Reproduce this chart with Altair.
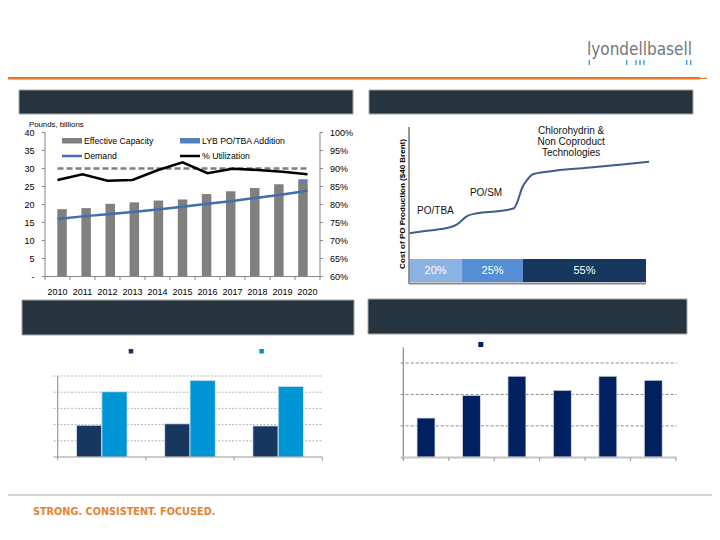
import altair as alt
import pandas as pd

OFF = 8  # page margin: chart pixel = page pixel - 8

# ---------------- data: top-left (PO supply / demand) ----------------
years = [2010, 2011, 2012, 2013, 2014, 2015, 2016, 2017, 2018, 2019, 2020]
effective_capacity = [18.7, 19.0, 20.2, 20.6, 21.1, 21.4, 22.9, 23.7, 24.6, 25.6, 26.5]
lyb_addition = [0, 0, 0, 0, 0, 0, 0, 0, 0, 0, 0.5]
demand = [16.0, 16.7, 17.3, 17.9, 18.6, 19.4, 20.2, 21.0, 21.9, 22.8, 23.8]
utilization = [0.868, 0.884, 0.866, 0.868, 0.895, 0.917, 0.887, 0.899, 0.896, 0.891, 0.884]
target_utilization = 0.90
left_ticks = [0, 5, 10, 15, 20, 25, 30, 35, 40]
left_tick_labels = ["-", "5", "10", "15", "20", "25", "30", "35", "40"]
right_ticks = [0.60, 0.65, 0.70, 0.75, 0.80, 0.85, 0.90, 0.95, 1.00]
right_tick_labels = ["60%", "65%", "70%", "75%", "80%", "85%", "90%", "95%", "100%"]

# ---------------- data: top-right (PO cost curve) ----------------
curve_capacity = [0, 7.6, 17.3, 20.3, 24.5, 28.7, 38.4, 44.3, 46.0, 47.7, 49.8, 52.3, 58.2, 77.6, 92.0, 101.3]
curve_cost = [31.9, 33.5, 35.7, 37.6, 42.9, 44.7, 46.2, 47.9, 53.2, 60.9, 66.0, 69.7, 71.3, 74.2, 76.3, 77.8]
share_labels = ["20%", "25%", "55%"]
share_start = [0, 22.4, 48.1]
share_end = [22.4, 48.1, 100]
share_colors = ["#8db3e2", "#558ed5", "#17375e"]
tech_labels = ["PO/TBA", "PO/SM"]
tech_label_cap = [3.4, 25.7]
tech_label_cost = [46.3, 57.7]
other_tech_lines = ["Chlorohydrin &", "Non Coproduct", "Technologies"]
other_tech_cap = [68.4, 68.4, 68.4]
other_tech_cost = [97.4, 90.4, 83.3]

# ---------------- data: bottom-left (grouped bars) ----------------
bl_groups = ["G1", "G2", "G3"]
bl_series_a = [1.96, 2.05, 1.92]
bl_series_b = [4.03, 4.73, 4.36]
bl_grid = [1, 2, 3, 4, 5]

# ---------------- data: bottom-right (bars) ----------------
br_categories = ["C1", "C2", "C3", "C4", "C5", "C6"]
br_values = [1.25, 1.97, 2.58, 2.13, 2.58, 2.45]
br_grid = [1, 2, 3]

# ---------------- helpers ----------------
ONE = alt.Data(values=[{"k": 1}])
AX = "#868686"
FONT = "Liberation Sans"


def V(px):
    return alt.value(px - OFF)


def R(a, b):
    return [a - OFF, b - OFF]


def rect(x1, y1, x2, y2, fill, stroke=None, sw=1):
    kw = {"fill": fill}
    if stroke:
        kw.update(stroke=stroke, strokeWidth=sw)
    return alt.Chart(ONE).mark_rect(**kw).encode(x=V(x1), x2=V(x2), y=V(y1), y2=V(y2))


def hline(x1, x2, y, color, w=1, dash=None):
    kw = {"color": color, "strokeWidth": w}
    if dash:
        kw["strokeDash"] = dash
    return alt.Chart(ONE).mark_rule(**kw).encode(x=V(x1), x2=V(x2), y=V(y))


def vline(x, y1, y2, color, w=1):
    return alt.Chart(ONE).mark_rule(color=color, strokeWidth=w).encode(x=V(x), y=V(y1), y2=V(y2))


def label(x, y, txt, size=9, color="#000000", align="left", weight="normal",
          font=FONT, angle=0, baseline="middle"):
    kw = dict(text=txt, fontSize=size, color=color, align=align, fontWeight=weight,
              font=font, baseline=baseline)
    if angle:
        kw["angle"] = angle
    return alt.Chart(ONE).mark_text(**kw).encode(x=V(x), y=V(y))


layers = []

# ---------------- page decorations ----------------
layers += [
    hline(0, 700, 78.3, "#e8762b", 2.5),
    hline(700, 707, 78.3, "#e8762b", 1.2),
    label(587, 55, "lyondellbasell", 17, "#72777c", font="DejaVu Sans Condensed", baseline="alphabetic"),
]
for tx in [589.3, 626.7, 636, 640, 644, 686.7, 690.7]:
    layers.append(vline(tx, 60, 65, "#3a93d3", 1.3))

layers += [
    rect(19, 90, 353, 114, "#263440", "#a6a6a6"),
    rect(369, 90, 693, 114, "#263440", "#a6a6a6"),
    rect(22, 300, 354, 335, "#263440", "#a6a6a6"),
    rect(368, 299, 687, 334, "#263440", "#a6a6a6"),
    hline(0, 720, 495, "#c8c8c8", 1.5),
    label(33, 512, "STRONG. CONSISTENT. FOCUSED.", 10.8, "#e8822f", weight="bold",
          font="DejaVu Sans Condensed"),
]

# ---------------- top-left chart ----------------
xs_tl = alt.Scale(domain=[2009.5, 2020.5], range=R(45, 320), nice=False, zero=False)
ys_tl = alt.Scale(domain=[0, 40], range=R(276.5, 132.5), nice=False, zero=False)
yr_tl = alt.Scale(domain=[0.6, 1.0], range=R(276.5, 132.5), nice=False, zero=False)

df_tl = pd.DataFrame({"year": years, "cap": effective_capacity, "lyb": lyb_addition,
                      "demand": demand, "util": utilization})
X_TL = alt.X("year:Q", scale=xs_tl, axis=None)

layers += [
    alt.Chart(df_tl).mark_bar(size=9.5, color="#808080").encode(
        x=X_TL, y=alt.Y("cap:Q", scale=ys_tl, axis=None)),
    alt.Chart(df_tl).transform_filter("datum.lyb > 0").transform_calculate(
        top="datum.cap + datum.lyb").mark_bar(size=9.5, color="#4f81bd").encode(
        x=X_TL, y=alt.Y("cap:Q", scale=ys_tl, axis=None), y2="top:Q"),
    alt.Chart(alt.Data(values=[{"a": years[0], "b": years[-1], "t": target_utilization}])).mark_rule(
        color="#808080", strokeWidth=2.5, strokeDash=[6, 3]).encode(
        x=alt.X("a:Q", scale=xs_tl, axis=None), x2="b:Q",
        y=alt.Y("t:Q", scale=yr_tl, axis=None)),
    alt.Chart(df_tl).mark_line(color="#3f6fae", strokeWidth=2.5).encode(
        x=X_TL, y=alt.Y("demand:Q", scale=ys_tl, axis=None)),
    alt.Chart(df_tl).mark_line(color="#000000", strokeWidth=2.5).encode(
        x=X_TL, y=alt.Y("util:Q", scale=yr_tl, axis=None)),
]

# axes (top-left)
df_lt = pd.DataFrame({"v": left_ticks, "lab": left_tick_labels})
df_rt = pd.DataFrame({"v": right_ticks, "lab": right_tick_labels})
df_bound = pd.DataFrame({"b": [y - 0.5 for y in years] + [years[-1] + 0.5]})
layers += [
    vline(45, 132.5, 276.5, AX),
    vline(320, 132.5, 276.5, AX),
    hline(45, 320, 276.5, AX),
    alt.Chart(df_lt).mark_rule(color=AX).encode(
        x=V(42), x2=V(45), y=alt.Y("v:Q", scale=ys_tl, axis=None)),
    alt.Chart(df_lt).mark_text(align="right", baseline="middle", fontSize=9, font=FONT).encode(
        x=V(34.5), y=alt.Y("v:Q", scale=ys_tl, axis=None), text="lab:N"),
    alt.Chart(df_rt).mark_rule(color=AX).encode(
        x=V(320), x2=V(323), y=alt.Y("v:Q", scale=yr_tl, axis=None)),
    alt.Chart(df_rt).mark_text(align="left", baseline="middle", fontSize=9, font=FONT).encode(
        x=V(330), y=alt.Y("v:Q", scale=yr_tl, axis=None), text="lab:N"),
    alt.Chart(df_bound).mark_rule(color=AX).encode(
        x=alt.X("b:Q", scale=xs_tl, axis=None), y=V(276.5), y2=V(280)),
    alt.Chart(df_tl).mark_text(align="center", baseline="middle", fontSize=9, font=FONT).encode(
        x=X_TL, y=V(291.5), text="year:N"),
    label(29, 125, "Pounds, billions", 7.8),
]
# legend (top-left)
layers += [
    rect(62, 138, 82, 143.5, "#808080"),
    label(84, 141, "Effective Capacity", 8.7),
    rect(180, 138, 200, 143.5, "#4f81bd"),
    label(202, 141, "LYB PO/TBA Addition", 8.7),
    hline(62, 82, 156, "#3f6fae", 2.5),
    label(84, 156, "Demand", 8.7),
    hline(180, 200, 156, "#000000", 2.5),
    label(202, 156, "% Utilization", 8.7),
]

# ---------------- top-right chart ----------------
xs_tr = alt.Scale(domain=[0, 100], range=R(409, 646), nice=False, zero=False)
ys_tr = alt.Scale(domain=[0, 100], range=R(283, 127), nice=False, zero=False)
df_curve = pd.DataFrame({"cap": curve_capacity, "cost": curve_cost})
df_share = pd.DataFrame({"lab": share_labels, "s": share_start, "e": share_end})
df_tech = pd.DataFrame({"lab": tech_labels, "cap": tech_label_cap, "cost": tech_label_cost})
df_other = pd.DataFrame({"lab": other_tech_lines, "cap": other_tech_cap, "cost": other_tech_cost})

layers += [
    alt.Chart(df_share).mark_rect().encode(
        x=alt.X("s:Q", scale=xs_tr, axis=None), x2="e:Q", y=V(259), y2=V(282),
        color=alt.Color("lab:N", scale=alt.Scale(domain=share_labels, range=share_colors), legend=None)),
    alt.Chart(df_share).transform_calculate(m="(datum.s + datum.e) / 2").mark_text(
        color="white", fontSize=11, font=FONT, align="center", baseline="middle").encode(
        x=alt.X("m:Q", scale=xs_tr, axis=None), y=V(270.7), text="lab:N"),
    alt.Chart(df_curve).mark_line(color="#3d5d8f", strokeWidth=2, interpolate="monotone").encode(
        x=alt.X("cap:Q", scale=xs_tr, axis=None), y=alt.Y("cost:Q", scale=ys_tr, axis=None)),
    alt.Chart(df_tech).mark_text(align="left", baseline="middle", fontSize=10, font=FONT, color="#111").encode(
        x=alt.X("cap:Q", scale=xs_tr, axis=None), y=alt.Y("cost:Q", scale=ys_tr, axis=None), text="lab:N"),
    alt.Chart(df_other).mark_text(align="center", baseline="middle", fontSize=10, font=FONT, color="#111").encode(
        x=alt.X("cap:Q", scale=xs_tr, axis=None), y=alt.Y("cost:Q", scale=ys_tr, axis=None), text="lab:N"),
    vline(409, 127, 284, "#8c8c8c", 1.8),
    hline(409, 646, 283.5, "#8c8c8c", 1.8),
    label(403, 204, "Cost of PO Production ($40 Brent)", 8, weight="bold", angle=270, align="center"),
]

# ---------------- bottom-left chart ----------------
xs_bl = alt.Scale(domain=bl_groups, range=R(57.7, 322.3), paddingInner=0, paddingOuter=0)
xq_bl = alt.Scale(domain=[0, 3], range=R(57.7, 322.3), nice=False, zero=False)
ys_bl = alt.Scale(domain=[0, 5], range=R(457, 376), nice=False, zero=False)
df_bl = pd.DataFrame({
    "grp": bl_groups * 2,
    "series": ["A"] * 3 + ["B"] * 3,
    "v": bl_series_a + bl_series_b,
})
layers += [
    alt.Chart(pd.DataFrame({"g": bl_grid})).mark_rule(color="#b4b4b4", strokeDash=[2, 1.5]).encode(
        x=V(53.5), x2=V(322.3), y=alt.Y("g:Q", scale=ys_bl, axis=None)),
    alt.Chart(df_bl).mark_bar(stroke="#e8eef5", strokeWidth=0.8).encode(
        x=alt.X("grp:N", scale=xs_bl, axis=None),
        xOffset=alt.XOffset("series:N", scale=alt.Scale(domain=["A", "B"], paddingInner=0, paddingOuter=0.74)),
        y=alt.Y("v:Q", scale=ys_bl, axis=None),
        color=alt.Color("series:N", scale=alt.Scale(domain=["A", "B"], range=["#17375e", "#0096d6"]), legend=None)),
    vline(57.7, 376, 457, "#9a9a9a", 1.2),
    hline(53.5, 322.3, 457, "#9a9a9a", 1.2),
    alt.Chart(pd.DataFrame({"b": [0, 1, 2, 3]})).mark_rule(color="#9a9a9a").encode(
        x=alt.X("b:Q", scale=xq_bl, axis=None), y=V(457), y2=V(460.5)),
    rect(128.7, 349, 133.3, 353.5, "#17375e"),
    rect(259.3, 349, 263.9, 353.5, "#0096d6"),
]

# ---------------- bottom-right chart ----------------
xs_br = alt.Scale(domain=br_categories, range=R(403.3, 676), paddingInner=0, paddingOuter=0)
xq_br = alt.Scale(domain=[0, 6], range=R(403.3, 676), nice=False, zero=False)
ys_br = alt.Scale(domain=[0, 3.5], range=R(457.3, 347.3), nice=False, zero=False)
df_br = pd.DataFrame({"cat": br_categories, "v": br_values})
layers += [
    alt.Chart(pd.DataFrame({"g": br_grid})).mark_rule(color="#8a8a8a", strokeDash=[3, 2]).encode(
        x=V(400.7), x2=V(676.7), y=alt.Y("g:Q", scale=ys_br, axis=None)),
    alt.Chart(df_br).mark_bar(width=18, color="#002060", stroke="#dfe5ee", strokeWidth=0.8).encode(
        x=alt.X("cat:N", scale=xs_br, axis=None), y=alt.Y("v:Q", scale=ys_br, axis=None)),
    vline(403.3, 347.3, 460, "#8a8a8a", 1.2),
    hline(400.7, 676.7, 457.6, "#c4c4c4", 2),
    alt.Chart(pd.DataFrame({"b": [0, 1, 2, 3, 4, 5, 6]})).mark_rule(color="#9a9a9a").encode(
        x=alt.X("b:Q", scale=xq_br, axis=None), y=V(457.3), y2=V(461)),
    rect(478.3, 342, 483.3, 347, "#002060"),
]

chart = alt.layer(*layers).resolve_scale(
    x="independent", y="independent", color="independent"
).properties(
    width=704, height=524,
    autosize=alt.AutoSizeParams(type="none"),
    padding=0,
    background="white",
).configure_view(stroke=None)

chart.save("out.html", embed_options={"renderer": "svg", "actions": False})
